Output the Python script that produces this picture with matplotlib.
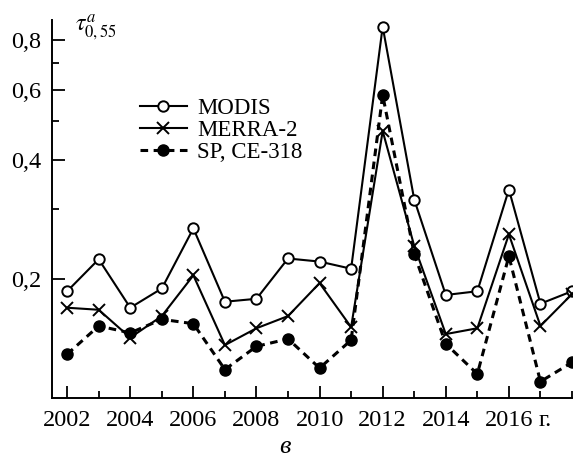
import numpy as np
import matplotlib.pyplot as plt
from matplotlib.ticker import FixedLocator, NullFormatter

plt.rcParams['font.family'] = ['Liberation Serif', 'DejaVu Serif']
plt.rcParams['mathtext.fontset'] = 'stix'

# Data
years = list(range(2002, 2019))
modis = [0.186, 0.224, 0.169, 0.189, 0.268, 0.175, 0.178, 0.225, 0.221, 0.212,
         0.866, 0.317, 0.182, 0.186, 0.336, 0.173, 0.186]
merra2 = [0.169, 0.167, 0.142, 0.161, 0.204, 0.136, 0.150, 0.161, 0.195, 0.151,
          0.472, 0.242, 0.145, 0.150, 0.259, 0.152, 0.183]
sp_ce318 = [0.129, 0.152, 0.146, 0.158, 0.154, 0.118, 0.135, 0.141, 0.119, 0.140,
            0.582, 0.231, 0.137, 0.115, 0.228, 0.110, 0.123]

y_major = [0.2, 0.4, 0.6, 0.8]
y_labels = ['0,2', '0,4', '0,6', '0,8']
y_minor = [0.3, 0.5, 0.7]
x_major = [2002, 2004, 2006, 2008, 2010, 2012, 2014, 2016]

fig = plt.figure(figsize=(5.78, 4.59), dpi=100)
ax = fig.add_axes([52 / 578, 61 / 459, 520 / 578, 378 / 459])

ax.plot(years, modis, '-', color='black', lw=1.5, marker='o', ms=7.5,
        mfc='white', mec='black', mew=1.4, label='MODIS')
ax.plot(years, merra2, '-', color='black', lw=1.5, marker='x', ms=9,
        mew=1.4, label='MERRA-2')
ax.plot(years, sp_ce318, '--', color='black', lw=2.2, marker='o', ms=8,
        mfc='black', mec='black', dashes=(2.5, 1.8), label='SP, CE-318')

ax.set_yscale('log')
ax.set_ylim(0.1, 0.9)
ax.set_xlim(2001.52, 2018)
ax.yaxis.set_major_locator(FixedLocator(y_major))
ax.set_yticklabels(y_labels)
ax.yaxis.set_minor_locator(FixedLocator(y_minor))
ax.yaxis.set_minor_formatter(NullFormatter())
ax.set_xticks(x_major)
ax.set_xticks(years, minor=True)

for side in ['top', 'right']:
    ax.spines[side].set_visible(False)
for side in ['left', 'bottom']:
    ax.spines[side].set_linewidth(1.4)

ax.tick_params(which='major', direction='in', length=9, width=1.3,
               labelsize=17.5)
ax.tick_params(axis='x', which='major', pad=9)
ax.tick_params(axis='y', which='major', pad=8)
ax.tick_params(which='minor', direction='in', length=5, width=1.3)

ax.annotate('г.', xy=(2016.95, 0), xycoords=('data', 'axes fraction'),
            xytext=(0, -9), textcoords='offset points',
            fontsize=17.5, ha='left', va='top')
ax.text(0.045, 1.02, r'$\tau^{a}_{0,55}$', fontsize=17, transform=ax.transAxes,
        ha='left', va='top')
fig.text(285 / 578, 1 - 447 / 459, 'в', fontsize=19, style='italic',
         ha='center', va='center')

ax.legend(loc='upper left', bbox_to_anchor=(0.169, 0.795), frameon=False,
          fontsize=16.5, handlelength=2.05, handletextpad=0.45, labelspacing=0.06,
          borderpad=0, borderaxespad=0)

fig.savefig('out.png', dpi=100)
